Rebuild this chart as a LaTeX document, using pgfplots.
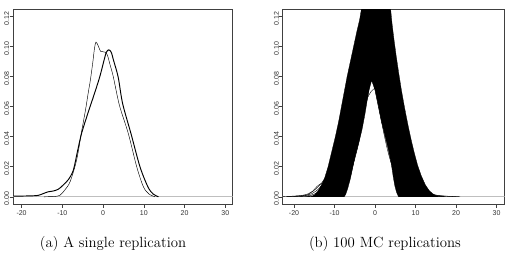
\documentclass[border=0pt]{standalone}
\usepackage{pgfplots}
\pgfplotsset{compat=1.18}
\usepackage{fontspec}
\newfontfamily\tickfont{Liberation Sans}

\pgfplotsset{
  densitypanel/.style={
    scale only axis,
    height=194.7pt,
    ymin=-0.0048, ymax=0.1248,
    xtick={-20,-10,0,10,20,30},
    xticklabels={-20,-10,0,10,20,30},
    ytick={0,0.02,0.04,0.06,0.08,0.10,0.12},
    yticklabels={0.00,0.02,0.04,0.06,0.08,0.10,0.12},
    tick pos=left,
    tick align=outside,
    major tick length=3.5pt,
    tick style={black!75, line width=0.5pt},
    axis line style={black!75, line width=0.6pt},
    ticklabel style={font=\tickfont\fontsize{7}{8}\selectfont, text=black!80, inner sep=0pt},
    yticklabel style={rotate=90, anchor=south, xshift=-2pt},
    xticklabel style={anchor=north, yshift=-3pt},
    /pgf/number format/assume math mode=true,
    clip=true,
  },
  zeroline/.style={black!25, line width=0.8pt, forget plot},
  kd/.style={black, line width=0.4pt, smooth, no markers},
}

\begin{document}
\begin{tikzpicture}[x=1pt,y=1pt]
\path (0,0) rectangle (508,266);

% ---------- (a) one replication: two kernel density estimates ----------
\begin{axis}[densitypanel, at={(13pt,62pt)}, anchor=south west,
  width=219.7pt, xmin=-22.1, xmax=31.8]
\addplot[zeroline] coordinates {(-30,0) (40,0)};
% thin estimate
\addplot[black, line width=0.45pt, smooth, no markers] coordinates {
(-14.5,0) (-12.0,0.0002) (-10.6,0.0010) (-9.4,0.0045) (-8.1,0.010)
(-6.5,0.0244) (-5.3,0.043) (-4.3,0.058) (-3.6,0.070) (-3.1,0.078)
(-2.5,0.090) (-2.1,0.099) (-1.74,0.1030) (-1.2,0.1005) (-0.6,0.0968)
(0.1,0.0965) (0.6,0.0962) (1.1,0.094) (1.7,0.088) (2.5,0.080)
(4.0,0.061) (6.2,0.042) (8.25,0.020) (9.9,0.0066) (11.3,0.0018) (12.75,0)
};
% thick estimate
\addplot[black, line width=0.95pt, smooth, no markers] coordinates {
(-22,0.0004) (-18,0.0006) (-16,0.0009) (-14.8,0.0020) (-13.5,0.0033)
(-12.3,0.0038) (-11.0,0.0050) (-9.8,0.0078) (-8.5,0.0115) (-7.3,0.0177)
(-6.3,0.030) (-5.3,0.042) (-3.8,0.055) (-2.2,0.068) (-0.8,0.080)
(0.2,0.0905) (0.8,0.0962) (1.4,0.0978) (2.0,0.0962) (2.6,0.0905)
(3.7,0.0797) (4.8,0.062) (6.85,0.042) (9.05,0.020) (11.0,0.0066)
(12.3,0.0018) (13.6,0)
};
\end{axis}

% ---------- (b) 100 Monte Carlo replications ----------
\begin{axis}[densitypanel, at={(282.7pt,62pt)}, anchor=south west,
  width=222pt, xmin=-22.8, xmax=32.0]
\addplot[zeroline] coordinates {(-30,0) (40,0)};
% dense core of the overlapping estimates
\addplot[fill=black, draw=black, line width=0.3pt] coordinates {
(-15.5,0.0) (-14.3,0.003) (-13.4,0.007) (-12.5,0.012) (-11.6,0.020)
(-10.7,0.030) (-9.8,0.040) (-9.0,0.050) (-8.3,0.060) (-7.6,0.070)
(-6.9,0.080) (-6.1,0.090) (-5.3,0.100) (-4.5,0.110) (-3.8,0.118)
(-3.3,0.126) (3.8,0.126) (4.2,0.115) (4.7,0.104) (5.2,0.094)
(5.8,0.083) (6.5,0.071) (7.3,0.059) (8.1,0.048) (8.9,0.038)
(9.7,0.029) (10.5,0.021) (11.4,0.014) (12.4,0.008) (13.4,0.004)
(14.6,0.0012) (15.5,0.0) (5.8,0.0) (5.3,0.003) (4.9,0.007)
(4.5,0.013) (4.0,0.022) (3.2,0.032) (2.3,0.042) (1.5,0.051)
(0.7,0.062) (0.0,0.071) (-0.85,0.0775) (-1.4,0.072) (-1.9,0.065)
(-2.5,0.055) (-3.2,0.045) (-4.0,0.036) (-4.8,0.028) (-5.5,0.020)
(-6.1,0.012) (-6.7,0.006) (-7.2,0.002) (-7.6,0.0)
} -- cycle;
% individual replications
\addplot[kd] coordinates {(-20.0,0.00003) (-15.8,0.00105) (-13.7,0.00417) (-11.6,0.01285) (-9.5,0.03085) (-7.4,0.05762) (-5.3,0.08384) (-3.2,0.0950) (-1.1,0.08384) (1.0,0.05762) (3.1,0.03085) (5.2,0.01285) (7.3,0.00417) (9.4,0.00105) (13.6,0.00003)};
\addplot[kd] coordinates {(-14.6,0.00003) (-10.5,0.00111) (-8.45,0.00438) (-6.4,0.01349) (-4.35,0.03237) (-2.3,0.06047) (-0.25,0.08799) (1.8,0.0997) (3.75,0.08799) (5.7,0.06047) (7.65,0.03237) (9.6,0.01349) (11.55,0.00438) (13.5,0.00111) (17.4,0.00003)};
\addplot[kd] coordinates {(-13.8,0.00004) (-10.6,0.00138) (-9.0,0.00547) (-7.4,0.01687) (-5.8,0.04049) (-4.2,0.07563) (-2.6,0.11005) (-1.0,0.1247) (0.6,0.11005) (2.2,0.07563) (3.8,0.04049) (5.4,0.01687) (7.0,0.00547) (8.6,0.00138) (11.8,0.00004)};
\addplot[kd] coordinates {(-13.5,0.00004) (-10.2,0.00134) (-8.55,0.00531) (-6.9,0.01636) (-5.25,0.03926) (-3.6,0.07333) (-1.95,0.10669) (-0.3,0.1209) (1.35,0.10669) (3.0,0.07333) (4.65,0.03926) (6.3,0.01636) (7.95,0.00531) (9.6,0.00134) (12.9,0.00004)};
\addplot[kd] coordinates {(-15.8,0.00004) (-12.3,0.00127) (-10.55,0.005) (-8.8,0.01542) (-7.05,0.03702) (-5.3,0.06914) (-3.55,0.1006) (-1.8,0.114) (-0.05,0.1006) (1.7,0.06914) (3.45,0.03702) (5.2,0.01542) (6.95,0.005) (8.7,0.00127) (12.2,0.00004)};
\addplot[kd] coordinates {(-13.5,0.00004) (-10.0,0.00127) (-8.25,0.005) (-6.5,0.01542) (-4.75,0.03702) (-3.0,0.06914) (-1.25,0.1006) (0.5,0.114) (2.25,0.1006) (4.0,0.06914) (5.75,0.03702) (7.5,0.01542) (9.25,0.005) (11.0,0.00127) (14.5,0.00004)};
\addplot[kd] coordinates {(-18.5,0.00003) (-14.5,0.00111) (-12.5,0.00438) (-10.5,0.01349) (-8.5,0.03237) (-6.5,0.06047) (-4.5,0.08799) (-2.5,0.0997) (-0.5,0.08799) (1.5,0.06047) (3.5,0.03237) (5.5,0.01349) (7.5,0.00438) (9.5,0.00111) (13.5,0.00003)};
\addplot[kd] coordinates {(-15.0,0.00003) (-11.0,0.00111) (-9.0,0.00438) (-7.0,0.01349) (-5.0,0.03237) (-3.0,0.06047) (-1.0,0.08799) (1.0,0.0997) (3.0,0.08799) (5.0,0.06047) (7.0,0.03237) (9.0,0.01349) (11.0,0.00438) (13.0,0.00111) (17.0,0.00003)};
\addplot[kd] coordinates {(-16.7,0.00004) (-12.9,0.00117) (-11.0,0.00461) (-9.1,0.01421) (-7.2,0.03409) (-5.3,0.06368) (-3.4,0.09266) (-1.5,0.105) (0.4,0.09266) (2.3,0.06368) (4.2,0.03409) (6.1,0.01421) (8.0,0.00461) (9.9,0.00117) (13.7,0.00004)};
\addplot[kd] coordinates {(-15.6,0.00003) (-11.7,0.00114) (-9.75,0.00449) (-7.8,0.01384) (-5.85,0.03322) (-3.9,0.06204) (-1.95,0.09028) (0.0,0.1023) (1.95,0.09028) (3.9,0.06204) (5.85,0.03322) (7.8,0.01384) (9.75,0.00449) (11.7,0.00114) (15.6,0.00003)};
\addplot[kd] coordinates {(-13.2,0.00004) (-10.2,0.00148) (-8.7,0.00584) (-7.2,0.018) (-5.7,0.04319) (-4.2,0.08066) (-2.7,0.11737) (-1.2,0.133) (0.3,0.11737) (1.8,0.08066) (3.3,0.04319) (4.8,0.018) (6.3,0.00584) (7.8,0.00148) (10.8,0.00004)};
\addplot[kd] coordinates {(-11.9,0.00004) (-8.8,0.00143) (-7.25,0.00565) (-5.7,0.01741) (-4.15,0.04179) (-2.6,0.07806) (-1.05,0.11358) (0.5,0.1287) (2.05,0.11358) (3.6,0.07806) (5.15,0.04179) (6.7,0.01741) (8.25,0.00565) (9.8,0.00143) (12.9,0.00004)};
% replications with a longer right tail
\addplot[kd] coordinates {(-17.0,0.00003) (-13.0,0.00093) (-11.0,0.00369) (-9.0,0.01137) (-7.0,0.02727) (-5.0,0.05095) (-3.0,0.07413) (-1.0,0.0840) (1.75,0.07413) (4.5,0.05095) (7.25,0.02727) (10.0,0.01137) (12.75,0.00369) (15.5,0.00093) (21.0,0.00003)};
\addplot[kd] coordinates {(-15.2,0.00003) (-11.4,0.00101) (-9.5,0.00398) (-7.6,0.01227) (-5.7,0.02945) (-3.8,0.05501) (-1.9,0.08004) (0.0,0.0907) (2.5,0.08004) (5.0,0.05501) (7.5,0.02945) (10.0,0.01227) (12.5,0.00398) (15.0,0.00101) (20.0,0.00003)};
% replications with a longer left tail
\addplot[kd] coordinates {(-22.0,0.00003) (-17.0,0.00099) (-14.5,0.00393) (-12.0,0.01212) (-9.5,0.02909) (-7.0,0.05434) (-4.5,0.07907) (-2.0,0.0896) (-0.05,0.07907) (1.9,0.05434) (3.85,0.02909) (5.8,0.01212) (7.75,0.00393) (9.7,0.00099) (13.6,0.00003)};
\addplot[kd] coordinates {(-23.5,0.00003) (-18.0,0.00097) (-15.25,0.00385) (-12.5,0.01187) (-9.75,0.02848) (-7.0,0.05319) (-4.25,0.0774) (-1.5,0.0877) (0.3,0.0774) (2.1,0.05319) (3.9,0.02848) (5.7,0.01187) (7.5,0.00385) (9.3,0.00097) (12.9,0.00003)};
% replication with a small left-tail bump
\addplot[kd] coordinates {(-21,0.0003) (-18,0.0006) (-16.5,0.0015) (-15.3,0.004) (-14.3,0.007) (-13.3,0.0088) (-12.4,0.0093) (-11.6,0.009) (-10.8,0.0105) (-10.0,0.016) (-9,0.027) (-8,0.040) (-7,0.055) (-6,0.070) (-5,0.085) (-4,0.097) (-3,0.106) (-2,0.110) (-1,0.108) (0,0.101) (1,0.091) (2,0.078) (3,0.062) (4,0.046) (5,0.031) (6,0.019) (7,0.010) (8,0.0045) (9,0.0017) (10.5,0.0004) (12,0)};
% flattest replication, with a right-tail shoulder
\addplot[kd] coordinates {(-15,0.0003) (-13,0.0015) (-11,0.005) (-9.5,0.011) (-8,0.020) (-6.5,0.031) (-5,0.043) (-3.5,0.055) (-2,0.065) (-1,0.070) (0.2,0.0725) (1.3,0.070) (2.5,0.063) (3.8,0.052) (5,0.041) (6.3,0.031) (7.5,0.025) (8.5,0.0225) (9.4,0.021) (10.3,0.017) (11.2,0.011) (12.2,0.006) (13.5,0.0025) (15,0.0008) (17,0.0001)};
\end{axis}

% ---------- sub-captions ----------
\node[font=\fontsize{14.8}{17}\selectfont] at (113,22) {(a) A single replication};
\node[font=\fontsize{14.8}{17}\selectfont] at (385,22) {(b) 100 MC replications};
\end{tikzpicture}
\end{document}
